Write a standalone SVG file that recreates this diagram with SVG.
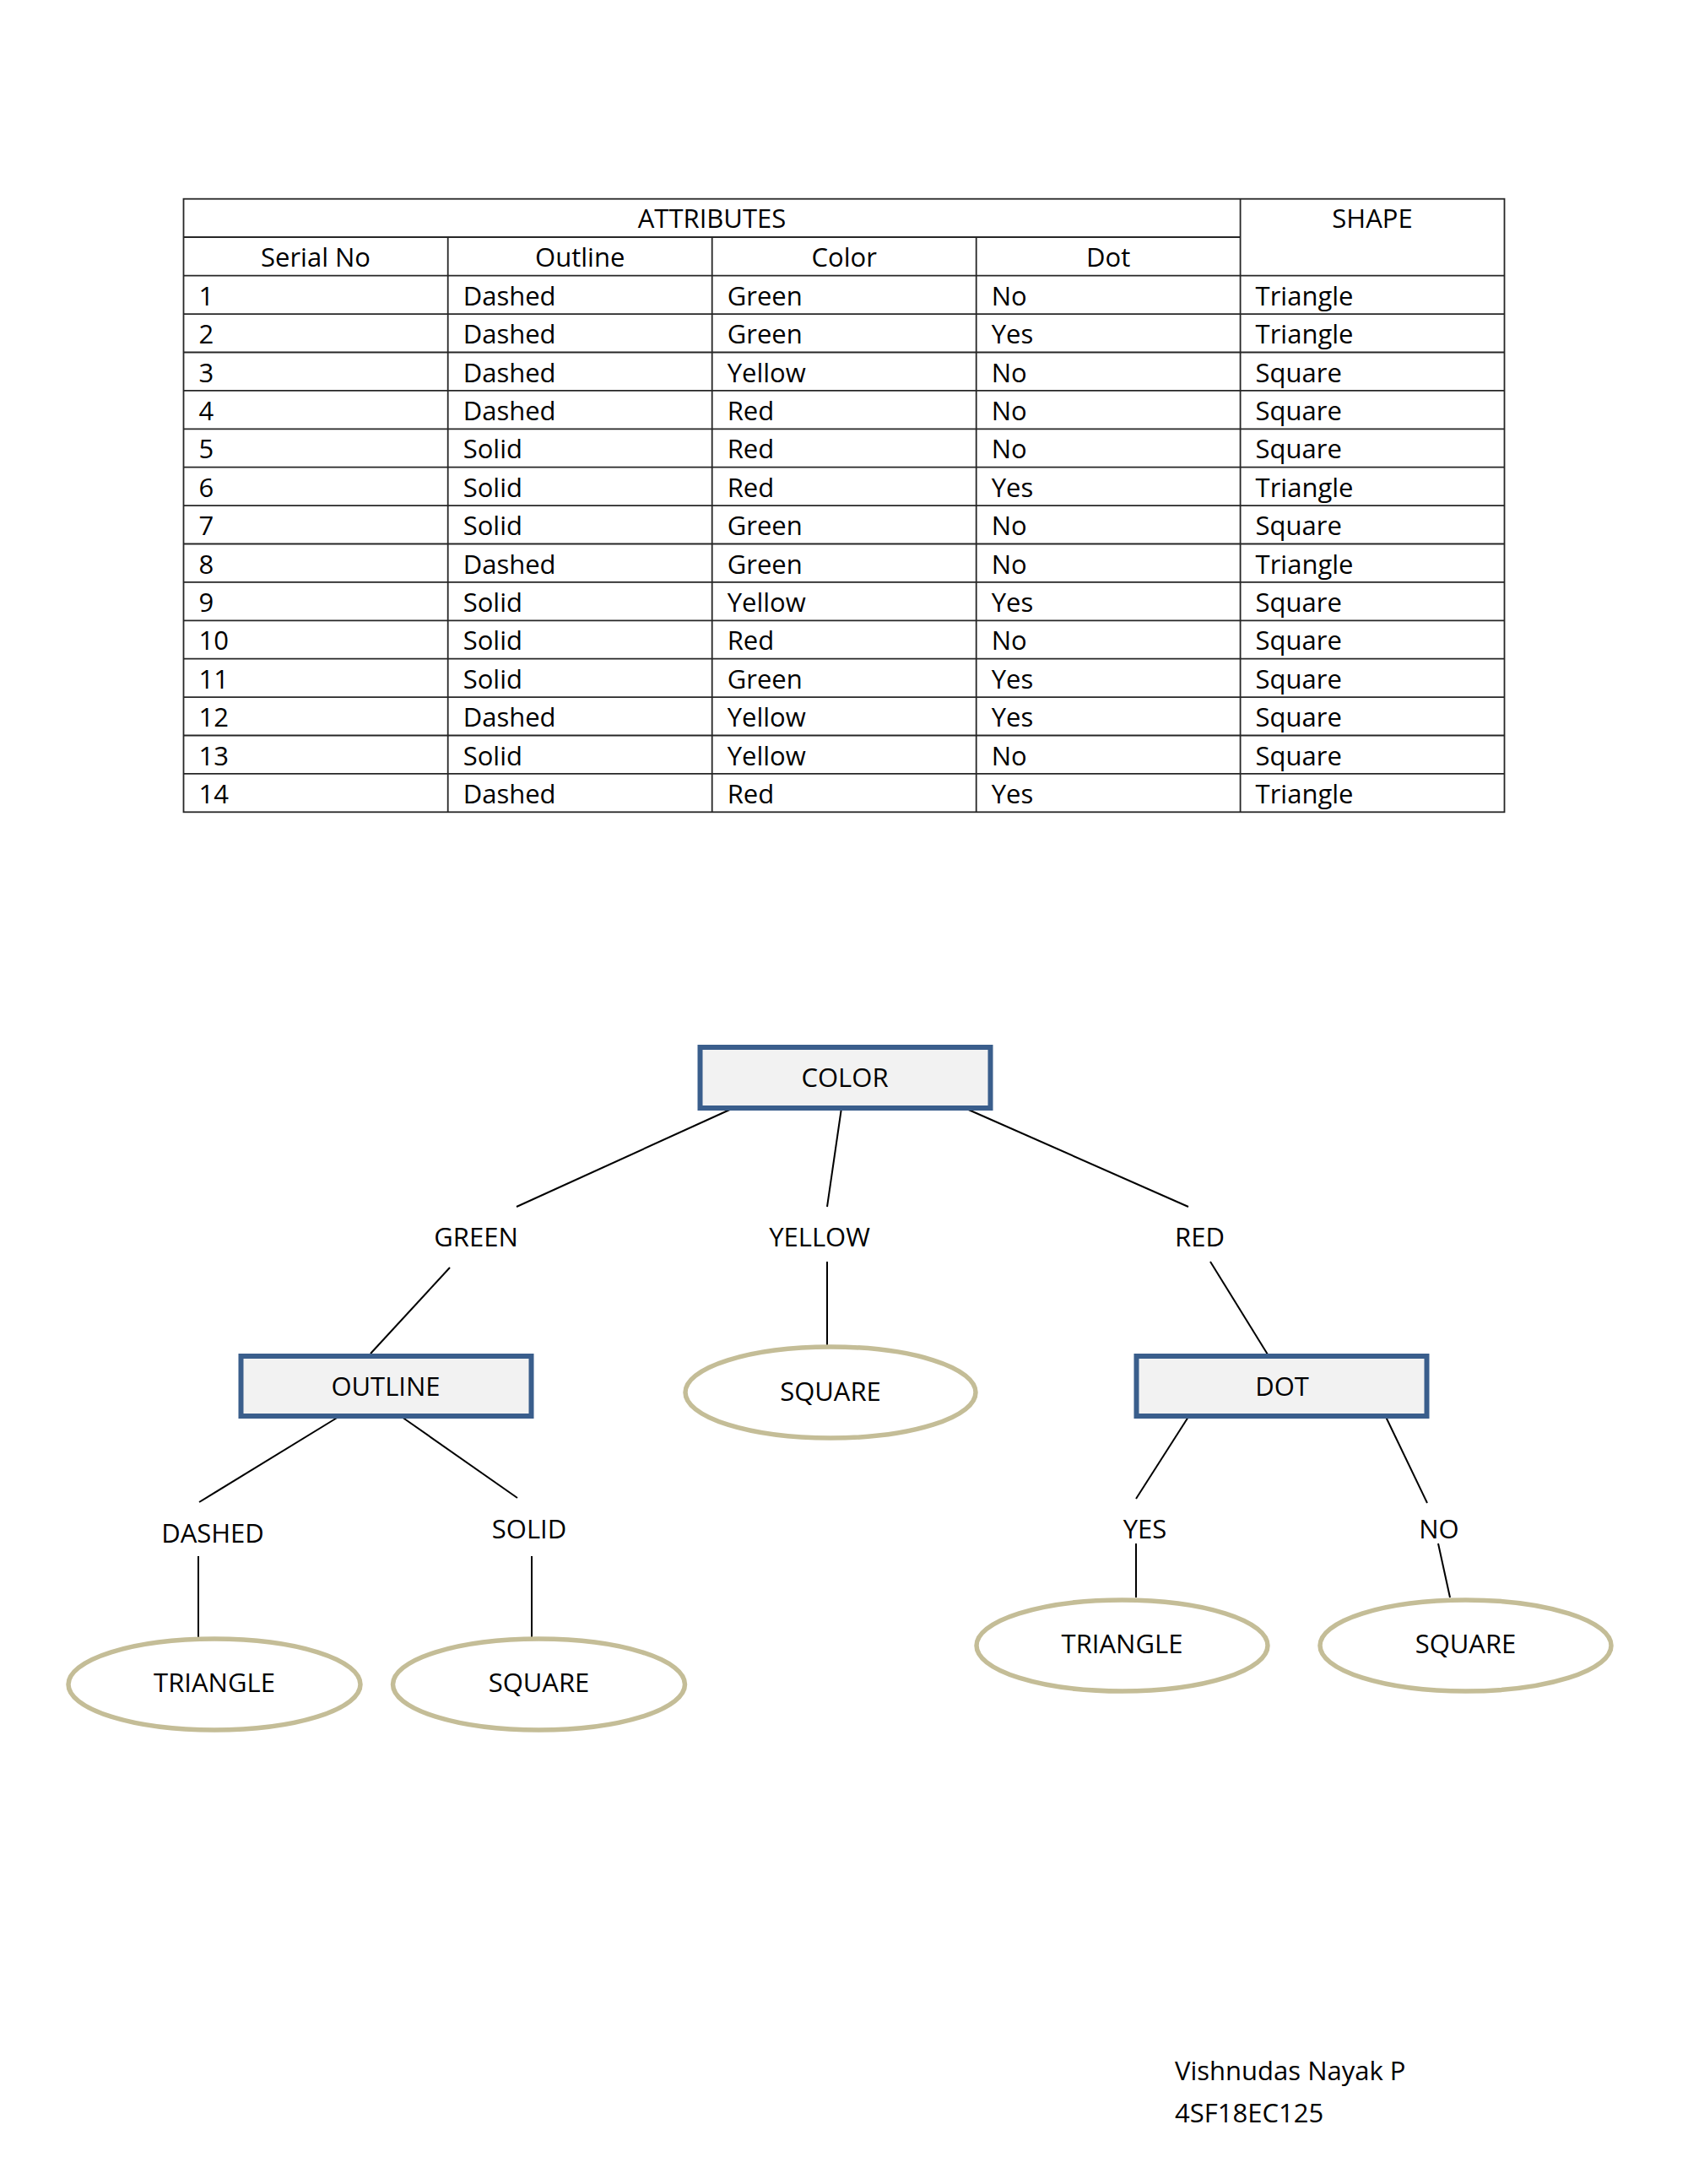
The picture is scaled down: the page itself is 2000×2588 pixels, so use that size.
<svg xmlns="http://www.w3.org/2000/svg" width="2000" height="2588" viewBox="0 0 2000 2588">
<style>
text{font-family:"Open Sans","Noto Sans","Liberation Sans",sans-serif;font-size:31px;fill:#000}
.c{text-anchor:middle}
.grid{stroke:#262626;stroke-width:1.8;fill:none}
.box{fill:#f2f2f2;stroke:#3a5e8c;stroke-width:6}
.ell{fill:#fff;stroke:#c4bd97;stroke-width:5.5}
.con{stroke:#000;stroke-width:2;fill:none}
</style>
<rect width="2000" height="2588" fill="#fff"/>
<g id="table">
<rect class="grid" x="217.5" y="235.7" width="1565" height="726.6"/>
<line class="grid" x1="217.5" y1="281" x2="1469.6" y2="281"/>
<line class="grid" x1="1469.6" y1="235.7" x2="1469.6" y2="962.3"/>
<line class="grid" x1="530.7" y1="281" x2="530.7" y2="962.3"/>
<line class="grid" x1="843.7" y1="281" x2="843.7" y2="962.3"/>
<line class="grid" x1="1156.7" y1="281" x2="1156.7" y2="962.3"/>
<g class="grid">
<line x1="217.5" y1="326.7" x2="1782.5" y2="326.7"/>
<line x1="217.5" y1="372.1" x2="1782.5" y2="372.1"/>
<line x1="217.5" y1="417.5" x2="1782.5" y2="417.5"/>
<line x1="217.5" y1="462.9" x2="1782.5" y2="462.9"/>
<line x1="217.5" y1="508.3" x2="1782.5" y2="508.3"/>
<line x1="217.5" y1="553.7" x2="1782.5" y2="553.7"/>
<line x1="217.5" y1="599.1" x2="1782.5" y2="599.1"/>
<line x1="217.5" y1="644.5" x2="1782.5" y2="644.5"/>
<line x1="217.5" y1="689.9" x2="1782.5" y2="689.9"/>
<line x1="217.5" y1="735.3" x2="1782.5" y2="735.3"/>
<line x1="217.5" y1="780.7" x2="1782.5" y2="780.7"/>
<line x1="217.5" y1="826.1" x2="1782.5" y2="826.1"/>
<line x1="217.5" y1="871.5" x2="1782.5" y2="871.5"/>
<line x1="217.5" y1="916.9" x2="1782.5" y2="916.9"/>
</g>
<text class="c" x="843.5" y="270">ATTRIBUTES</text>
<text class="c" x="1626" y="270">SHAPE</text>
<text class="c" x="374" y="315.5">Serial No</text>
<text class="c" x="687.2" y="315.5">Outline</text>
<text class="c" x="1000.2" y="315.5">Color</text>
<text class="c" x="1313.2" y="315.5">Dot</text>
<g>
<text x="235.5" y="361.7">1</text><text x="548.7" y="361.7">Dashed</text><text x="861.7" y="361.7">Green</text><text x="1174.7" y="361.7">No</text><text x="1487.6" y="361.7">Triangle</text>
<text x="235.5" y="407.1">2</text><text x="548.7" y="407.1">Dashed</text><text x="861.7" y="407.1">Green</text><text x="1174.7" y="407.1">Yes</text><text x="1487.6" y="407.1">Triangle</text>
<text x="235.5" y="452.5">3</text><text x="548.7" y="452.5">Dashed</text><text x="861.7" y="452.5">Yellow</text><text x="1174.7" y="452.5">No</text><text x="1487.6" y="452.5">Square</text>
<text x="235.5" y="497.9">4</text><text x="548.7" y="497.9">Dashed</text><text x="861.7" y="497.9">Red</text><text x="1174.7" y="497.9">No</text><text x="1487.6" y="497.9">Square</text>
<text x="235.5" y="543.3">5</text><text x="548.7" y="543.3">Solid</text><text x="861.7" y="543.3">Red</text><text x="1174.7" y="543.3">No</text><text x="1487.6" y="543.3">Square</text>
<text x="235.5" y="588.7">6</text><text x="548.7" y="588.7">Solid</text><text x="861.7" y="588.7">Red</text><text x="1174.7" y="588.7">Yes</text><text x="1487.6" y="588.7">Triangle</text>
<text x="235.5" y="634.1">7</text><text x="548.7" y="634.1">Solid</text><text x="861.7" y="634.1">Green</text><text x="1174.7" y="634.1">No</text><text x="1487.6" y="634.1">Square</text>
<text x="235.5" y="679.5">8</text><text x="548.7" y="679.5">Dashed</text><text x="861.7" y="679.5">Green</text><text x="1174.7" y="679.5">No</text><text x="1487.6" y="679.5">Triangle</text>
<text x="235.5" y="724.9">9</text><text x="548.7" y="724.9">Solid</text><text x="861.7" y="724.9">Yellow</text><text x="1174.7" y="724.9">Yes</text><text x="1487.6" y="724.9">Square</text>
<text x="235.5" y="770.3">10</text><text x="548.7" y="770.3">Solid</text><text x="861.7" y="770.3">Red</text><text x="1174.7" y="770.3">No</text><text x="1487.6" y="770.3">Square</text>
<text x="235.5" y="815.7">11</text><text x="548.7" y="815.7">Solid</text><text x="861.7" y="815.7">Green</text><text x="1174.7" y="815.7">Yes</text><text x="1487.6" y="815.7">Square</text>
<text x="235.5" y="861.1">12</text><text x="548.7" y="861.1">Dashed</text><text x="861.7" y="861.1">Yellow</text><text x="1174.7" y="861.1">Yes</text><text x="1487.6" y="861.1">Square</text>
<text x="235.5" y="906.5">13</text><text x="548.7" y="906.5">Solid</text><text x="861.7" y="906.5">Yellow</text><text x="1174.7" y="906.5">No</text><text x="1487.6" y="906.5">Square</text>
<text x="235.5" y="951.9">14</text><text x="548.7" y="951.9">Dashed</text><text x="861.7" y="951.9">Red</text><text x="1174.7" y="951.9">Yes</text><text x="1487.6" y="951.9">Triangle</text>
</g>
</g>
<g id="connectors" class="con">
<line x1="869" y1="1313" x2="612" y2="1430"/>
<line x1="997" y1="1313" x2="980" y2="1430"/>
<line x1="1143" y1="1313" x2="1408" y2="1430"/>
<line x1="533" y1="1502" x2="439" y2="1604"/>
<line x1="980" y1="1495" x2="980" y2="1596"/>
<line x1="1434" y1="1495" x2="1502" y2="1605"/>
<line x1="401" y1="1679" x2="236" y2="1780"/>
<line x1="476" y1="1679" x2="613" y2="1775"/>
<line x1="235" y1="1844" x2="235" y2="1941"/>
<line x1="630" y1="1844" x2="630" y2="1941"/>
<line x1="1408" y1="1679" x2="1346" y2="1776"/>
<line x1="1642" y1="1679" x2="1691" y2="1781"/>
<line x1="1346" y1="1829" x2="1346" y2="1893"/>
<line x1="1704" y1="1829" x2="1718" y2="1893"/>
</g>
<g id="color"><rect class="box" x="829.5" y="1241" width="344" height="72"/><text class="c" x="1001" y="1288.4">COLOR</text></g>
<g id="green"><text class="c" x="564" y="1476.5">GREEN</text></g>
<g id="yellow"><text class="c" x="971" y="1476.5">YELLOW</text></g>
<g id="red"><text class="c" x="1421.5" y="1476.5">RED</text></g>
<g id="outline"><rect class="box" x="285.5" y="1607" width="344" height="71"/><text class="c" x="457" y="1654">OUTLINE</text></g>
<g id="square-yellow"><ellipse class="ell" cx="984" cy="1650" rx="172" ry="54"/><text class="c" x="984" y="1659.6">SQUARE</text></g>
<g id="dot"><rect class="box" x="1346.5" y="1607" width="344" height="71"/><text class="c" x="1519" y="1654">DOT</text></g>
<g id="dashed"><text class="c" x="252" y="1828">DASHED</text></g>
<g id="solid"><text class="c" x="627" y="1823">SOLID</text></g>
<g id="yes"><text class="c" x="1356.5" y="1823">YES</text></g>
<g id="no"><text class="c" x="1705" y="1823">NO</text></g>
<g id="triangle-dashed"><ellipse class="ell" cx="254" cy="1996" rx="173" ry="54"/><text class="c" x="254" y="2005">TRIANGLE</text></g>
<g id="square-solid"><ellipse class="ell" cx="638.5" cy="1996" rx="173" ry="54"/><text class="c" x="638.5" y="2005">SQUARE</text></g>
<g id="triangle-yes"><ellipse class="ell" cx="1329.5" cy="1950" rx="172.5" ry="54"/><text class="c" x="1329.5" y="1959">TRIANGLE</text></g>
<g id="square-no"><ellipse class="ell" cx="1736.5" cy="1950" rx="172.5" ry="54"/><text class="c" x="1736.5" y="1959">SQUARE</text></g>
<g id="footer">
<text x="1392" y="2464.6">Vishnudas Nayak P</text>
<text x="1392" y="2514.5">4SF18EC125</text>
</g>
</svg>
